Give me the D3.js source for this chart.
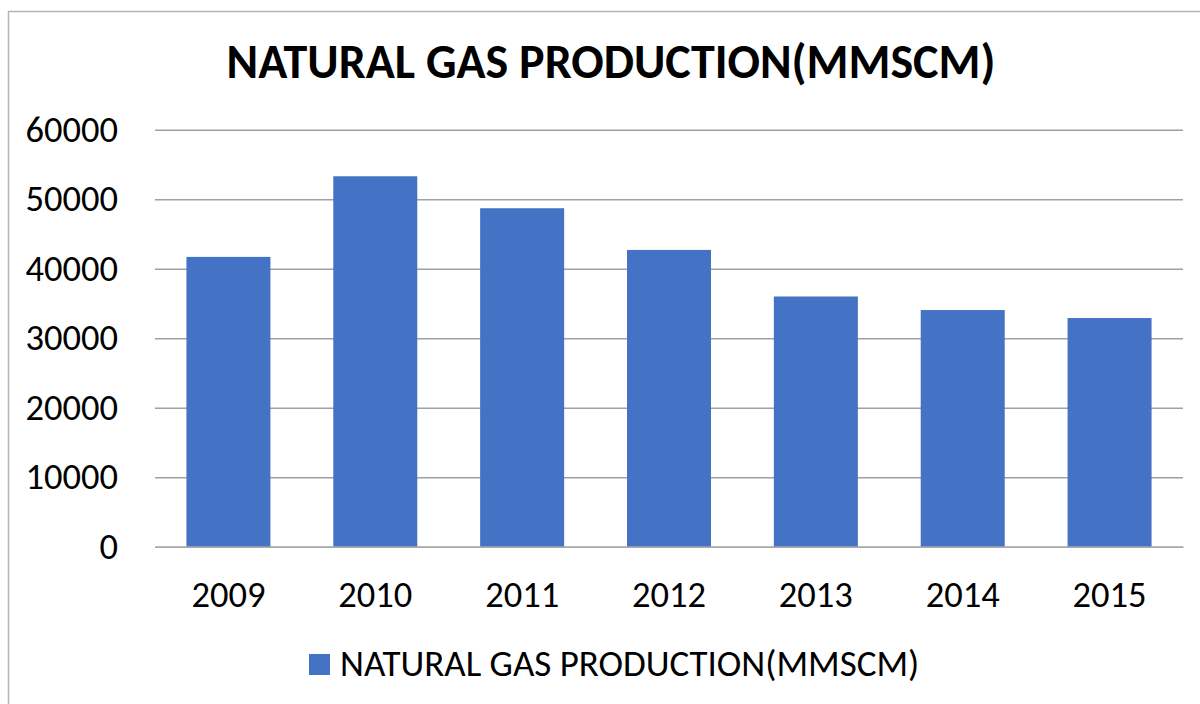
<!DOCTYPE html>
<html>
<head>
<meta charset="utf-8">
<script src="https://cdn.jsdelivr.net/npm/d3@7"></script>
<style>
  body { margin: 0; background: #fff; }
  text { font-family: Carlito, Calibri, "Open Sans", sans-serif; fill: #000; }
</style>
</head>
<body>
<svg id="chart" width="1200" height="704"></svg>
<script>
// values
const years = ['2009', '2010', '2011', '2012', '2013', '2014', '2015'];
const production = [41700, 53300, 48700, 42700, 36000, 34050, 32900];
const yTicks = [0, 10000, 20000, 30000, 40000, 50000, 60000];
const title = 'NATURAL GAS PRODUCTION(MMSCM)';

let svg = d3.select('svg#chart');
let margin = {top: 129.7, right: 17, bottom: 157.3, left: 155};
let [sizeX, sizeY] = [1200, 704];

// chart frame
svg.append('rect')
  .attr('x', 8.5).attr('y', 11.5)
  .attr('width', 1300).attr('height', 800)
  .style('fill', 'none')
  .style('stroke', '#b4b4b4')
  .style('stroke-width', 1.5);

let x = d3.scaleBand()
  .domain(years)
  .range([margin.left, sizeX - margin.right])
  .paddingInner(0.428)
  .paddingOuter(0.214);

let y = d3.scaleLinear()
  .domain([0, 60000])
  .range([sizeY - margin.bottom, margin.top]);

// gridlines + y labels
let yAxis = d3.axisLeft(y)
  .tickValues(yTicks)
  .tickSize(-(sizeX - margin.right - margin.left))
  .tickPadding(37)
  .tickFormat(d => d);

let gy = svg.append('g')
  .attr('transform', `translate(${margin.left},0)`)
  .call(yAxis);
gy.select('.domain').remove();
gy.selectAll('.tick line')
  .style('stroke', '#a0a0a0')
  .style('stroke-width', 1.4);
gy.selectAll('.tick text')
  .style('font-size', '36.5px')
  .style('font-family', 'Carlito, Calibri, "Open Sans", sans-serif')
  .attr('dy', '0.32em');

// bars
svg.selectAll('rect.bar')
  .data(production)
  .enter()
  .append('rect')
  .attr('class', 'bar')
  .attr('x', (d, i) => x(years[i]))
  .attr('width', x.bandwidth())
  .attr('y', d => y(d))
  .attr('height', d => y(0) - y(d))
  .style('fill', '#4472c4');

// x axis
let xAxis = d3.axisBottom(x).tickSize(0).tickPadding(34.4);
let gx = svg.append('g')
  .attr('transform', `translate(0,${y(0)})`)
  .call(xAxis);
gx.select('.domain')
  .style('stroke', '#a8a8a8')
  .style('stroke-width', 1.4);
gx.selectAll('.tick text')
  .style('font-size', '36.5px')
  .style('font-family', 'Carlito, Calibri, "Open Sans", sans-serif');

// title
let t = svg.append('text')
  .attr('x', 611)
  .attr('y', 78)
  .style('text-anchor', 'middle')
  .style('font-size', '48px')
  .style('font-weight', 'bold')
  .text(title);
if (t.node().getComputedTextLength() > 770) {
  t.attr('textLength', 767).attr('lengthAdjust', 'spacingAndGlyphs');
}

// legend
let legend = svg.append('g');
legend.append('rect')
  .attr('x', 309).attr('y', 654)
  .attr('width', 21).attr('height', 21)
  .style('fill', '#4472c4');
let lt = legend.append('text')
  .attr('x', 340)
  .attr('y', 675.5)
  .style('font-size', '37px')
  .text(title);
if (lt.node().getComputedTextLength() > 585) {
  lt.attr('textLength', 582).attr('lengthAdjust', 'spacingAndGlyphs');
}
</script>
</body>
</html>
